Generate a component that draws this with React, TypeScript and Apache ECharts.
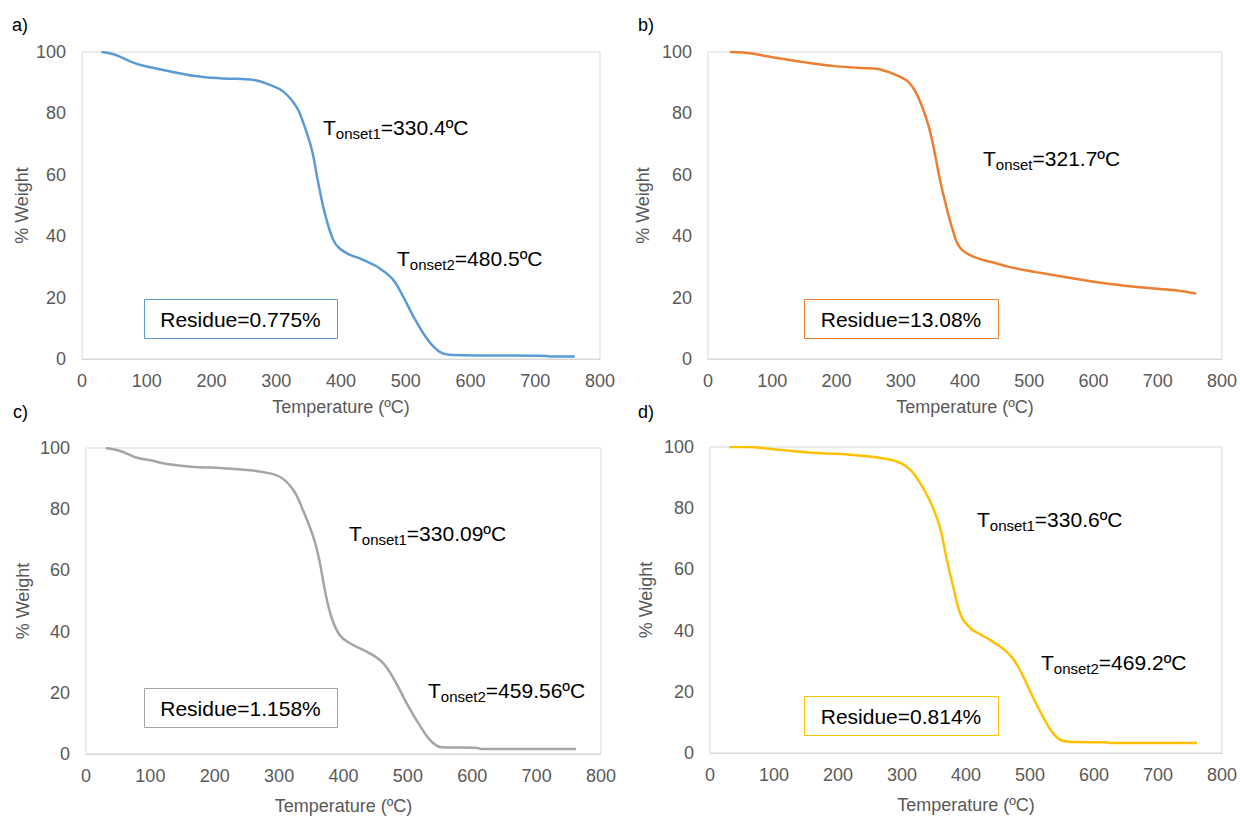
import React, { useEffect, useRef } from "react";
import * as echarts from "echarts";

const FONT = "'Liberation Sans', Arial, sans-serif";
const AXIS_GREY = "#595959";
const BORDER_GREY = "#D9D9D9";

// Panel a) (blue)
const tempA = [30, 50, 76, 95, 131, 174, 217, 266, 290, 311, 331, 342, 355, 365, 375, 388, 398, 414, 429, 445, 460, 481, 496, 512, 527, 543, 556, 573, 718, 723, 761];
const weightA = [100, 99.2, 96.8, 95.5, 93.9, 92.2, 91.4, 90.9, 89.3, 87.1, 82.2, 76.8, 68.1, 57.2, 47.5, 38.8, 36.0, 33.9, 32.8, 31.2, 29.5, 25.7, 20.3, 13.8, 8.4, 4.0, 1.9, 1.3, 1.0, 0.8, 0.8];

// Panel b) (orange)
const tempB = [34, 55, 98, 148, 197, 258, 267, 293, 314, 329, 342, 352, 360, 371, 381, 391, 407, 431, 448, 468, 511, 567, 603, 665, 726, 760];
const weightB = [100, 99.8, 98.4, 96.7, 95.4, 94.6, 94.4, 92.5, 89.8, 84.4, 76.8, 68.1, 59.4, 49.6, 42.0, 36.6, 33.9, 32.1, 31.2, 30.0, 28.3, 26.3, 25.1, 23.5, 22.4, 21.3];

// Panel c) (grey)
const tempC = [31, 52, 77, 102, 126, 163, 213, 250, 270, 301, 322, 337, 353, 363, 371, 381, 394, 410, 441, 462, 482, 498, 518, 537, 553, 608, 614, 761];
const weightC = [100, 99.1, 97.0, 95.9, 94.8, 93.9, 93.4, 92.8, 92.3, 90.6, 86.3, 79.7, 71.0, 62.8, 53.6, 44.9, 38.9, 36.2, 32.9, 29.6, 23.1, 16.6, 9.5, 4.0, 2.2, 2.0, 1.6, 1.6];

// Panel d) (yellow)
const tempD = [30, 58, 107, 169, 219, 256, 287, 306, 322, 343, 359, 369, 380, 393, 408, 421, 437, 452, 463, 475, 489, 504, 520, 536, 551, 567, 619, 625, 761];
const weightD = [100, 100, 99.1, 98.0, 97.5, 96.7, 95.6, 93.8, 90.3, 82.7, 74.0, 64.2, 54.3, 44.5, 40.6, 38.9, 37.0, 35.0, 33.2, 30.4, 25.2, 18.5, 12.0, 6.5, 4.0, 3.6, 3.5, 3.3, 3.3];

const xTicks = { min: 0, max: 800, interval: 100 };
const yTicks = { min: 0, max: 100, interval: 20 };

const panelLetters = ["a)", "b)", "c)", "d)"];
const lineColors = ["#5B9BD5", "#ED7D31", "#A5A5A5", "#FFC000"];
const residueTexts = ["Residue=0.775%", "Residue=13.08%", "Residue=1.158%", "Residue=0.814%"];
const onsetLabels: [string, string][][] = [
  [["onset1", "=330.4ºC"], ["onset2", "=480.5ºC"]],
  [["onset", "=321.7ºC"]],
  [["onset1", "=330.09ºC"], ["onset2", "=459.56ºC"]],
  [["onset1", "=330.6ºC"], ["onset2", "=469.2ºC"]],
];

// layout
const grids = [
  { left: 82, top: 52, width: 518, height: 307 },
  { left: 708, top: 52, width: 515, height: 307 },
  { left: 86, top: 448, width: 515, height: 306 },
  { left: 710, top: 447, width: 513, height: 306 },
];
const xNameGaps = [39, 39, 43, 43];
const yNameGaps = [51, 56, 54, 55];
const letterPos = [
  [12, 25],
  [638, 25],
  [13, 412],
  [638, 412],
];
const onsetPos = [
  [[323, 113], [397, 244]],
  [[983, 144]],
  [[349, 519], [428, 676]],
  [[977, 505], [1041, 648]],
];
const residueBoxes = [
  [144, 299, 193, 39],
  [804, 299, 194, 39],
  [144, 688, 193, 39],
  [804, 696, 194, 39],
];

const temps = [tempA, tempB, tempC, tempD];
const weights = [weightA, weightB, weightC, weightD];

export default function App() {
  const ref = useRef<HTMLDivElement>(null);
  useEffect(() => {
    if (!ref.current) return;
    const chart = echarts.init(ref.current, null, { renderer: "svg" });

    const graphic: any[] = [];
    panelLetters.forEach((t, i) => {
      graphic.push({
        type: "text",
        x: letterPos[i][0],
        y: letterPos[i][1],
        style: { text: t, fontSize: 18, fontFamily: FONT, fill: "#000", align: "left", verticalAlign: "middle" },
      });
    });
    onsetLabels.forEach((labels, i) => {
      labels.forEach((lab, j) => {
        graphic.push({
          type: "text",
          x: onsetPos[i][j][0],
          y: onsetPos[i][j][1],
          style: {
            text: `{m|T}{s|${lab[0]}}{m|${lab[1]}}`,
            align: "left",
            verticalAlign: "top",
            fill: "#000",
            rich: {
              m: { fontSize: 21, lineHeight: 28, fontFamily: FONT, fill: "#000", verticalAlign: "middle" },
              s: { fontSize: 15, lineHeight: 15, fontFamily: FONT, fill: "#000", verticalAlign: "bottom" },
            },
          },
        });
      });
    });
    residueBoxes.forEach((b, i) => {
      graphic.push({
        type: "rect",
        shape: { x: b[0] + 0.5, y: b[1] + 0.5, width: b[2], height: b[3] },
        style: { fill: "#fff", stroke: lineColors[i], lineWidth: 1 },
        z: 10,
      });
      graphic.push({
        type: "text",
        x: b[0] + b[2] / 2,
        y: b[1] + b[3] / 2 + 1,
        z: 11,
        style: { text: residueTexts[i], fontSize: 21, fontFamily: FONT, fill: "#000", align: "center", verticalAlign: "middle" },
      });
    });

    chart.setOption({
      animation: false,
      backgroundColor: "#fff",
      textStyle: { fontFamily: FONT },
      grid: grids.map((g) => ({ ...g, show: true, borderColor: BORDER_GREY, borderWidth: 1, backgroundColor: "transparent" })),
      xAxis: grids.map((_, i) => ({
        gridIndex: i,
        type: "value",
        ...xTicks,
        name: "Temperature (ºC)",
        nameLocation: "middle",
        nameGap: xNameGaps[i],
        nameTextStyle: { fontSize: 18, color: AXIS_GREY, fontFamily: FONT },
        axisLine: { show: true, lineStyle: { color: BORDER_GREY, width: 1 } },
        axisTick: { show: false },
        axisLabel: { fontSize: 18, color: AXIS_GREY, margin: 13, fontFamily: FONT },
        splitLine: { show: false },
      })),
      yAxis: grids.map((_, i) => ({
        gridIndex: i,
        type: "value",
        ...yTicks,
        name: "% Weight",
        nameLocation: "middle",
        nameGap: yNameGaps[i],
        nameTextStyle: { fontSize: 18, color: AXIS_GREY, fontFamily: FONT },
        axisLine: { show: false },
        axisTick: { show: false },
        axisLabel: { fontSize: 18, color: AXIS_GREY, margin: 16, fontFamily: FONT },
        splitLine: { show: false },
      })),
      series: temps.map((t, i) => ({
        type: "line",
        xAxisIndex: i,
        yAxisIndex: i,
        data: t.map((x, k) => [x, weights[i][k]]),
        showSymbol: false,
        smooth: 0.4,
        lineStyle: { color: lineColors[i], width: 2.5 },
        itemStyle: { color: lineColors[i] },
      })),
      graphic,
    });
    return () => chart.dispose();
  }, []);
  return <div ref={ref} style={{ position: "fixed", left: 0, top: 0, width: 1240, height: 820, background: "#fff" }} />;
}
